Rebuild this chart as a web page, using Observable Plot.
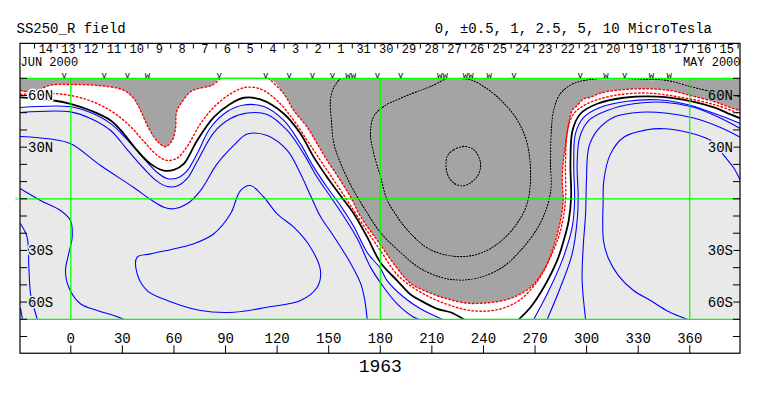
<!DOCTYPE html>
<html><head><meta charset="utf-8">
<script src="https://cdn.jsdelivr.net/npm/d3@7"></script>
<script src="https://cdn.jsdelivr.net/npm/@observablehq/plot@0.6"></script>
<style>body{margin:0;background:#fff}</style>
</head><body><div id="chart"></div>
<script>
// ---------- texts & ticks ----------
const title = "SS250_R field";
const levelsTitle = "0, \u00b10.5, 1, 2.5, 5, 10 MicroTesla";
const rotation = "1963";
const monthLeft = "JUN 2000";
const monthRight = "MAY 2000";
const lonTicks = [0, 30, 60, 90, 120, 150, 180, 210, 240, 270, 300, 330, 360];
const latTickValues = [-80, -70, -60, -50, -40, -30, -20, -10, 0, 10, 20, 30, 40, 50, 60, 70];
const latLabels = [{lat: 60, text: "60N"}, {lat: 30, text: "30N"}, {lat: -30, text: "30S"}, {lat: -60, text: "60S"}];
const gridLons = [0, 180, 360];
const gridLats = [-70, 0, 70];
const dayLabels = ["14","13","12","11","10","9","8","7","6","5","4","3","2","1","31","30","29","28","27","26","25","24","23","22","21","20","19","18","17","16","15"];
const dayLons = [-14.5,-1.3,11.9,25.1,38.3,51.5,64.7,77.9,91.1,104.3,117.5,130.7,143.9,157.1,170.3,183.5,196.7,209.9,223.1,236.3,249.5,262.7,275.9,289.1,302.3,315.5,328.7,341.9,355.1,368.3,381.5];
// observation markers: longitude and how many overlap there
const obsLons = [-3.9,19.4,33.0,44.6,86.3,113.4,127.0,140.6,152.2,162.8,178.4,191.9,216.2,231.1,243.3,257.8,296.2,311.2,322.2,337.7,348.0];
const obsCounts = [1,1,1,2,1,1,1,1,1,3,1,1,3,3,2,1,1,2,1,2,2];

// ---------- contour lines, [longitude, latitude] ----------
const grayWest = [[-29.25,62.9],[-21.7,62.3],[-11.8,66.0],[-0.2,66.4],[17.3,65.7],[30.8,63.1],[36.6,58.3],[40.5,51.5],[44.4,42.8],[48.3,36.0],[51.0,32.7],[55.1,30.2],[59.0,34.0],[60.9,40.8],[61.5,50.5],[64.8,56.4],[69.6,62.2],[74.4,64.1],[82.2,66.0],[87.1,70]];
const grayEast = [[115.0,70],[123.9,61.0],[129.7,51.3],[137.5,41.6],[143.3,32.0],[149.1,22.3],[155.7,12.4],[163.3,0],[168.5,-10.3],[180.1,-26.7],[189.8,-40.3],[197.5,-49.0],[209.2,-54.8],[218.9,-58.1],[229.5,-60.5],[238.3,-60.7],[248.2,-59.7],[257.5,-57.2],[267.4,-51.4],[274.9,-41.7],[280.7,-28.1],[284.8,-12.6],[286.4,-1.0],[285.8,10.6],[286.5,22.3],[287.6,30.0],[289.4,42.6],[291.6,51.3],[294.5,54.2],[298.4,58.1],[302.3,59.0],[308.1,61.4],[319.7,63.3],[335.2,63.9],[348.8,62.9],[360.4,60.0],[374.0,56.5],[383.7,53.0],[389.5,51.3]];
const redMid = [[-29.25,60.6],[-9.9,61.2],[7.6,58.2],[23.2,51.2],[34.7,42.0],[42.5,33.3],[50.3,25.2],[56.1,22.3],[61.9,23.7],[67.7,30.4],[75.4,43.6],[83.2,53.2],[92.9,61.0],[101.6,64.7],[110.3,63.8],[120.0,57.1],[129.7,45.5],[137.5,33.9],[145.2,22.3],[153.0,10.7],[160.8,-1.0],[169.1,-13.8],[180.1,-30.1],[189.8,-44.0],[199.5,-51.8],[211.1,-58.2],[222.8,-62.6],[232.5,-64.9],[242.2,-65.2],[251.8,-63.4],[261.5,-58.5],[271.3,-48.0],[279.0,-33.9],[284.8,-18.4],[287.7,-1.0],[287.7,20.3],[288.9,39.7],[292.5,49.4],[300.3,55.2],[315.8,60.0],[335.2,61.4],[354.6,59.0],[374.0,54.8],[389.5,49.3]];
const zeroWest = [[-29.25,58.9],[-9.9,57.1],[-0.2,55.2],[11.5,51.3],[23.2,45.5],[30.8,37.8],[38.6,28.1],[46.4,20.3],[54.1,16.4],[59.9,16.8],[65.7,20.3],[73.5,33.9],[83.2,47.4],[92.9,55.2],[100.6,58.7],[110.3,57.7],[123.9,49.4],[133.6,37.8],[141.3,24.2],[149.1,12.5],[156.8,1.9],[164.6,-8.7],[172.4,-22.3],[180.1,-37.0],[189.8,-47.5],[197.6,-55.6],[203.4,-59.1],[213.1,-63.9],[220.8,-65.9],[228.6,-70]];
const zeroEast = [[260.6,-70],[267.4,-63.0],[275.1,-51.4],[282.9,-35.8],[286.7,-24.2],[289.6,-12.6],[291.0,0.9],[290.6,20.3],[291.8,39.7],[296.4,49.4],[306.2,55.2],[321.6,58.7],[341.1,59.4],[360.5,56.8],[375.0,52.8],[383.7,49.0],[389.5,46.7]];
const pos05West = [[-29.25,53.0],[-0.2,53.5],[11.5,50.1],[23.2,43.7],[32.8,34.4],[42.5,23.4],[50.3,15.3],[56.1,11.8],[61.9,12.1],[67.7,16.4],[73.5,26.3],[81.3,41.4],[91.0,50.7],[100.6,54.5],[112.3,53.6],[123.9,45.5],[133.6,31.9],[141.3,18.4],[149.1,6.7],[156.8,-3.9],[164.6,-16.1],[172.4,-31.2],[180.1,-40.5],[184.0,-47.5],[193.7,-57.2],[203.4,-63.9],[216.0,-70]];
const pos1West = [[-29.25,50.1],[-0.2,50.5],[11.5,46.7],[23.2,39.7],[32.8,28.6],[42.5,17.6],[50.3,10.1],[56.1,7.1],[61.9,7.4],[67.7,11.8],[73.5,21.7],[83.2,38.5],[92.9,46.6],[102.6,49.8],[114.2,49.0],[125.9,39.7],[135.5,26.1],[143.3,12.5],[151.0,1.3],[158.8,-10.3],[166.6,-23.1],[174.3,-39.7],[182.0,-51.4],[189.8,-61.0],[199.5,-68.8],[202.4,-70]];
const pos25West = [[-29.25,36.2],[-11.8,34.7],[-0.2,32.1],[17.3,19.3],[36.6,6.6],[46.4,-0.4],[54.1,-4.9],[59.9,-5.8],[67.7,-2.9],[75.4,4.8],[85.1,20.3],[94.8,31.0],[102.6,37.6],[114.2,36.8],[125.9,28.1],[133.6,14.5],[139.4,1.9],[145.2,-10.3],[153.0,-21.9],[162.7,-37.4],[168.5,-49.0],[170.8,-57.9],[172.4,-70]];
const pos5Loop = [[104.5,7.7],[112.3,0.9],[120.0,-8.7],[129.7,-16.5],[139.4,-28.1],[145.2,-41.7],[143.3,-51.4],[133.6,-59.1],[114.2,-63.0],[94.8,-65.9],[75.4,-64.9],[56.1,-59.1],[44.4,-53.3],[38.6,-43.6],[38.6,-33.9],[46.4,-32.0],[71.5,-26.1],[83.2,-20.3],[92.9,-8.7],[98.7,4.8]];
const cornerA = [[-29.25,5.8],[-17.6,-1.0],[-6.0,-6.8],[-0.2,-12.6],[0.8,-22.3],[-1.2,-31.9],[-3.1,-41.7],[-1.2,-51.4],[5.6,-61.0],[15.4,-64.9],[25.0,-67.8],[30.8,-70]];
const cornerB = [[-29.25,-14.5],[-25.4,-22.3],[-24.4,-39.7],[-23.4,-55.2],[-21.5,-63.0],[-19.5,-70]];
const cornerC = [[-29.25,-63.7],[-28.1,-70]];
const pos05East = [[269.3,-70],[277.1,-55.2],[285.8,-35.8],[291.6,-16.5],[293.0,-1.0],[292.5,20.3],[293.5,37.8],[298.4,47.4],[308.1,53.2],[323.6,56.7],[341.1,57.5],[358.5,54.8],[374.0,49.7],[383.7,46.1],[389.5,43.7]];
const pos1East = [[277.1,-70],[284.8,-51.4],[291.6,-32.0],[294.5,-12.6],[295.1,0.9],[294.5,20.3],[296.0,35.8],[301.3,45.5],[312.0,51.3],[327.4,55.2],[344.9,56.1],[362.3,53.2],[375.9,47.8],[389.5,40.8]];
const pos25East = [[299.4,-70],[297.4,-47.5],[298.0,-28.1],[299.4,-8.7],[299.9,10.6],[301.3,30.0],[306.2,39.7],[315.8,47.4],[331.3,50.3],[346.9,49.7],[362.3,46.9],[377.9,41.4],[389.5,35.6]];
const pos5East = [[358.5,-70],[347.6,-65.5],[337.2,-59.1],[327.3,-53.3],[318.5,-44.6],[312.7,-34.7],[309.8,-24.2],[309.6,-1.0],[310.0,10.6],[313.9,26.1],[321.6,35.8],[335.2,40.1],[344.9,40.7],[358.5,38.7],[368.2,35.8],[374.0,32.7],[379.8,25.2],[385.4,18.2],[389.5,10.6]];
const neg1 = [[156.9,70],[153.0,64.8],[151.0,57.1],[151.6,45.5],[153.0,32.3],[156.9,20.7],[163.3,7.1],[171.5,-6.8],[180.1,-19.6],[191.8,-31.2],[203.4,-40.5],[218.9,-46.5],[234.4,-46.5],[249.9,-40.5],[261.5,-30.1],[273.2,-13.8],[279.0,3.7],[279.0,22.3],[279.5,39.7],[280.9,51.7],[284.8,61.2],[292.5,67.0],[302.3,69.3],[315.8,70],[331.3,69.5],[346.9,68.7],[360.4,65.2],[370.1,62.9],[389.5,59.4]];
const neg2 = [[218.5,70],[209.2,65.2],[201.5,62.3],[191.8,58.4],[182.0,53.6],[176.2,47.8],[174.3,38.1],[176.2,26.5],[180.1,13.0],[184.0,-0.6],[189.8,-10.3],[197.5,-20.0],[209.2,-29.6],[224.7,-33.5],[238.3,-31.6],[249.9,-24.8],[259.6,-14.2],[265.4,-2.6],[267.4,13.0],[265.4,32.3],[259.6,45.9],[249.9,57.5],[240.2,65.2],[232.5,69.1],[225.5,70]];
const neg3 = [[218.9,24.6],[222.8,28.5],[228.6,30.4],[234.4,28.5],[238.3,20.7],[236.4,13.0],[228.6,7.6],[222.8,9.1],[218.9,14.9]];

// ---------- drawing ----------
const font = "'Liberation Mono', 'DejaVu Sans Mono', monospace";
const W = -29.25, E = 389.5;
const X = d => d[0], Y = d => d[1];
const curve = "catmull-rom";
const BLUE = "#0000ff", RED = "#ff0000", GREEN = "#00ff00", DARK = "#a4a4a4", LIGHT = "#e9e9e9";
const days = dayLabels.map((label, i) => ({label, lon: dayLons[i]}));
const dayTicks = dayLons.map(l => l - 6.6).concat([dayLons[dayLons.length - 1] + 6.6]);
const obs = obsLons.map((lon, i) => ({lon, glyph: ["v", "w", "ww"][obsCounts[i] - 1]}));
const blueLines = [pos05West, pos1West, pos25West, cornerA, cornerB, cornerC, pos05East, pos1East, pos25East, pos5East];
const ln = (data, o) => Plot.line(data, {x: X, y: Y, curve, clip: true, ...o});

const chart = Plot.plot({
  width: 763, height: 396,
  marginLeft: 20, marginRight: 23, marginTop: 77.8, marginBottom: 77.2,
  x: {domain: [W, E], axis: null},
  y: {domain: [-70, 70], axis: null},
  style: {fontFamily: font, background: "white", color: "black", overflow: "visible"},
  marks: [
    Plot.frame({fill: LIGHT, stroke: "none"}),
    ln([[W, 70], ...pos05West, ...pos05East, [E, 70]], {fill: "white", stroke: "none"}),
    ln([[W, 70], ...grayWest, ...grayEast, [E, 70]], {fill: DARK, stroke: "none"}),
    ...blueLines.map(l => ln(l, {stroke: BLUE, strokeWidth: 1.1})),
    ln(pos5Loop, {curve: "catmull-rom-closed", stroke: BLUE, strokeWidth: 1.1}),
    ...[zeroWest, zeroEast].map(l => ln(l, {stroke: "black", strokeWidth: 1.8})),
    ...[grayWest, grayEast, redMid].map(l => ln(l, {stroke: RED, strokeWidth: 1.4, strokeDasharray: "1.5,2.5"})),
    ...[neg1, neg2].map(l => ln(l, {stroke: "white", strokeWidth: 1.2})),
    ln(neg3, {curve: "catmull-rom-closed", stroke: "white", strokeWidth: 1.2}),
    ...[neg1, neg2].map(l => ln(l, {stroke: "black", strokeWidth: 1.2, strokeDasharray: "1.5,1.5"})),
    ln(neg3, {curve: "catmull-rom-closed", stroke: "black", strokeWidth: 1.2, strokeDasharray: "1.5,1.5"}),
    Plot.ruleX(gridLons, {y1: -70, y2: 70, stroke: GREEN, strokeWidth: 1.2}),
    Plot.ruleY(gridLats, {stroke: GREEN, strokeWidth: 1.2}),
    Plot.rect([0], {x1: W, x2: E, y1: -90, y2: 90, fill: "none", stroke: "black", strokeWidth: 1.2}),
    Plot.ruleY(latTickValues, {x1: W, x2: W + 4.1, stroke: "black"}),
    Plot.ruleY(latTickValues, {x1: E - 4.1, x2: E, stroke: "black"}),
    Plot.ruleX(lonTicks, {y1: -90, y2: -85.4, stroke: "black"}),
    Plot.ruleX(dayTicks, {y1: 90, y2: 87.0, stroke: "black"}),
    Plot.text([title], {frameAnchor: "top-left", dx: -4, dy: -45.8, textAnchor: "start", lineAnchor: "bottom", fontSize: 14, fontFamily: font}),
    Plot.text([levelsTitle], {frameAnchor: "top-right", dx: -28.5, dy: -45.8, textAnchor: "end", lineAnchor: "bottom", fontSize: 14, fontFamily: font}),
    Plot.text(days, {x: "lon", text: "label", frameAnchor: "top", dy: -29.3, lineAnchor: "middle", fontSize: 12, fontFamily: font}),
    Plot.text([monthLeft], {frameAnchor: "top-left", dy: -15.8, textAnchor: "start", lineAnchor: "middle", fontSize: 12, fontFamily: font}),
    Plot.text([monthRight], {frameAnchor: "top-right", dy: -15.8, textAnchor: "end", lineAnchor: "middle", fontSize: 12, fontFamily: font}),
    Plot.text(obs, {x: "lon", text: "glyph", frameAnchor: "top", dy: -0.6, lineAnchor: "bottom", fontSize: 9, fontFamily: font}),
    Plot.text(lonTicks, {x: d => d, text: d => String(d), frameAnchor: "bottom", dy: 19.5, lineAnchor: "middle", fontSize: 14, fontFamily: font}),
    Plot.text([rotation], {x: () => 180, frameAnchor: "bottom", dy: 46.5, lineAnchor: "middle", fontSize: 18, fontFamily: font}),
    Plot.text(latLabels, {y: "lat", text: "text", frameAnchor: "left", dx: 7.5, textAnchor: "start", lineAnchor: "middle", fontSize: 14, fontFamily: font,
      stroke: d => d.lat === 60 ? "white" : LIGHT, strokeWidth: 3, paintOrder: "stroke", fill: "black"}),
    Plot.text(latLabels, {y: "lat", text: "text", frameAnchor: "right", dx: -7.5, textAnchor: "end", lineAnchor: "middle", fontSize: 14, fontFamily: font,
      stroke: d => d.lat === 60 ? DARK : LIGHT, strokeWidth: 3, paintOrder: "stroke", fill: "black"}),
    Plot.text([0], {y: d => d, text: () => ">", frameAnchor: "left", dx: -1.5, textAnchor: "end", lineAnchor: "middle", fontSize: 8, fill: GREEN, fontFamily: font})
  ]
});
document.getElementById("chart").appendChild(chart);
</script>
</body></html>
